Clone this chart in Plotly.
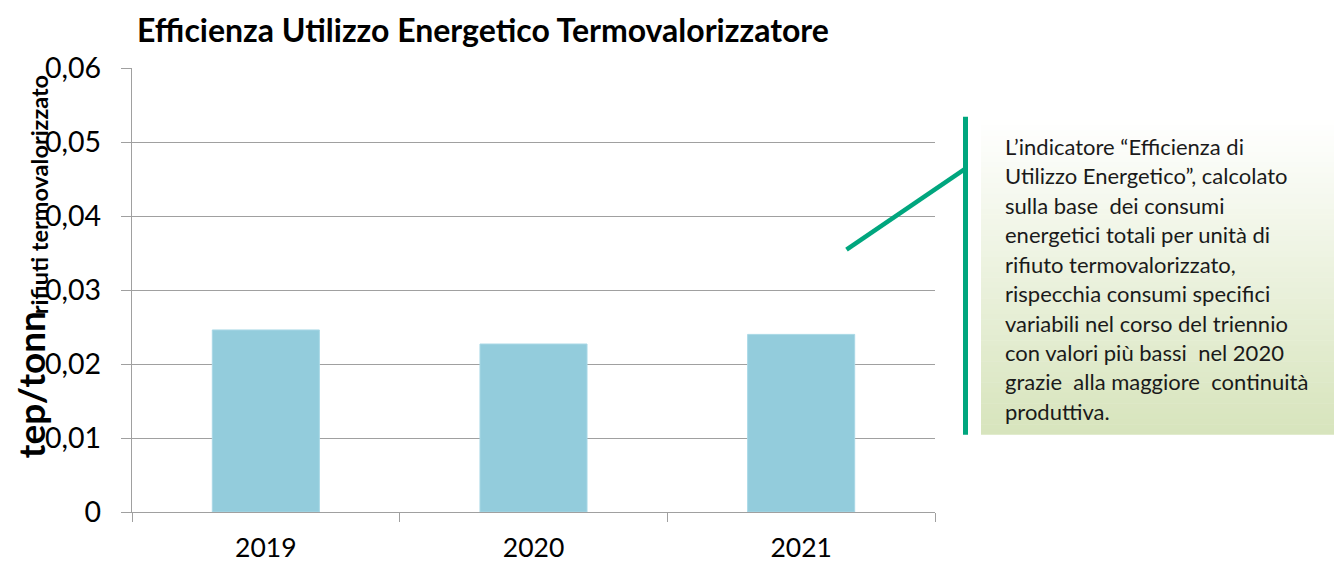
import plotly.graph_objects as go

# ---- data ----
YEARS = ["2019", "2020", "2021"]
VALUES = [0.0246, 0.0227, 0.0240]
Y_TICKS = [0, 0.01, 0.02, 0.03, 0.04, 0.05, 0.06]
Y_TICK_LABELS = ["0", "0,01", "0,02", "0,03", "0,04", "0,05", "0,06"]
TITLE = "Efficienza Utilizzo Energetico Termovalorizzatore"
Y_TITLE_MAIN = "tep/tonn"
Y_TITLE_SUB = "rifiuti termovalorizzato"
NOTE_LINES = [
    "L’indicatore “Efficienza di",
    "Utilizzo Energetico”, calcolato",
    "sulla base  dei consumi",
    "energetici totali per unità di",
    "rifiuto termovalorizzato,",
    "rispecchia consumi specifici",
    "variabili nel corso del triennio",
    "con valori più bassi  nel 2020",
    "grazie  alla maggiore  continuità",
    "produttiva.",
]

OFF = 8  # browser body margin
W, H = 1342 - OFF, 565 - OFF
# plot area in reference (screen) pixels
L, R, T, B = 132, 935, 68.3, 512.3
FONT = "Lato, Carlito, Calibri, sans-serif"
GRAY = "#A0A0A0"
GREEN = "#00A67E"


def px(xp):
    return (xp - L) / (R - L)


def py(yp):
    return (B - yp) / (B - T)


fig = go.Figure()
fig.add_trace(go.Bar(
    x=YEARS, y=VALUES,
    marker=dict(color="#93CCDC", line=dict(color="#A9D8E6", width=1)),
    hoverinfo="x+y",
))

shapes = []
# gradient box for the note
top, bot, x0, x1 = 120.0, 435.0, 981.0, 1334.0
n = 60
c0 = (255, 255, 255)
c1 = (215, 228, 188)
for i in range(n):
    t = (i + 0.5) / n
    col = tuple(round(c0[k] + (c1[k] - c0[k]) * t) for k in range(3))
    ya = top + (bot - top) * i / n
    yb = top + (bot - top) * (i + 1) / n + 0.6
    shapes.append(dict(type="rect", xref="paper", yref="paper",
                       x0=px(x0), x1=px(x1), y0=py(min(yb, bot)), y1=py(ya),
                       line=dict(width=0), fillcolor="rgb(%d,%d,%d)" % col,
                       layer="below"))
# callout lines
shapes.append(dict(type="line", xref="paper", yref="paper",
                   x0=px(965.5), x1=px(965.5), y0=py(435), y1=py(117),
                   line=dict(color=GREEN, width=5)))
shapes.append(dict(type="line", xref="paper", yref="paper",
                   x0=px(846.5), x1=px(965.5), y0=py(250), y1=py(169),
                   line=dict(color=GREEN, width=4.5)))

annotations = []
# y-axis title: main part and subscript part
annotations.append(dict(
    text="<b>%s</b>" % Y_TITLE_MAIN,
    xref="paper", yref="paper", x=px(30.5), y=py(385),
    xanchor="center", yanchor="middle", textangle=-90, showarrow=False,
    font=dict(family=FONT, size=37, color="#000000"),
))
annotations.append(dict(
    text="<b>%s</b>" % Y_TITLE_SUB,
    xref="paper", yref="paper", x=px(38.5), y=py(195),
    xanchor="center", yanchor="middle", textangle=-90, showarrow=False,
    font=dict(family=FONT, size=23.5, color="#000000"),
))
# note lines
for i, line in enumerate(NOTE_LINES):
    annotations.append(dict(
        text=line, xref="paper", yref="paper",
        x=px(1003), y=py(146.7 + 29.45 * i),
        xanchor="left", yanchor="middle", showarrow=False,
        font=dict(family=FONT, size=22, color="#1A1A1A"),
    ))

fig.update_layout(
    width=W, height=H,
    margin=dict(l=L - OFF, r=(1342 - R), t=T - OFF, b=(565 - B), pad=0,
                autoexpand=False),
    paper_bgcolor="white", plot_bgcolor="white",
    bargap=0.6,
    showlegend=False,
    title=dict(text="<b>%s</b>" % TITLE, xref="container", yref="container",
               x=(137 - OFF) / W, xanchor="left", y=1 - (30.7 - OFF) / H,
               yanchor="middle",
               font=dict(family=FONT, size=32, color="#000000")),
    font=dict(family=FONT, color="#000000"),
    shapes=shapes,
    annotations=annotations,
)
fig.update_xaxes(
    type="category", tickson="boundaries", ticks="outside", ticklen=9,
    tickcolor=GRAY, tickwidth=1.3, showline=True, linecolor=GRAY, linewidth=1.3,
    showgrid=False, tickfont=dict(family=FONT, size=26.5, color="#000000"),
    ticklabelstandoff=12, automargin=False,
)
fig.update_yaxes(
    range=[0, 0.06], tickvals=Y_TICKS, ticktext=Y_TICK_LABELS,
    ticks="outside", ticklen=10, tickcolor=GRAY, tickwidth=1.3,
    showline=True, linecolor=GRAY, linewidth=1.3,
    showgrid=True, gridcolor=GRAY, gridwidth=1.3, zeroline=False,
    tickfont=dict(family=FONT, size=28.5, color="#000000"),
    ticklabelstandoff=14, automargin=False,
)

fig.write_html("out.html")
